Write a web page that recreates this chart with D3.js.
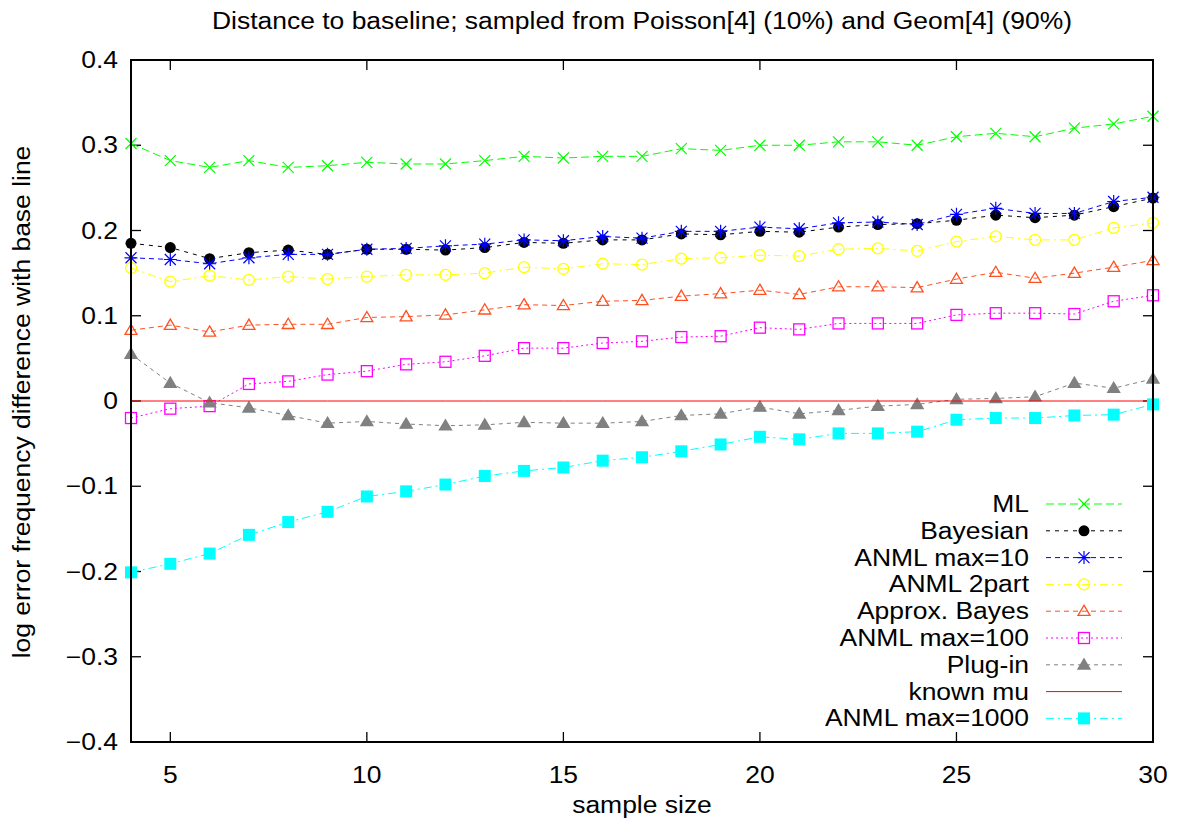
<!DOCTYPE html>
<html>
<head>
<meta charset="utf-8">
<script src="https://cdnjs.cloudflare.com/ajax/libs/d3/7.8.5/d3.min.js"></script>
<style>
  body { margin: 0; background: #fff; }
  text { font-family: "Liberation Sans", Arial, sans-serif; font-size: 23px; fill: #000; }
</style>
</head>
<body>
<svg id="chart" width="1179" height="828"></svg>
<script>
let sampleSizes = [4, 5, 6, 7, 8, 9, 10, 11, 12, 13, 14, 15, 16, 17, 18, 19, 20, 21, 22, 23, 24, 25, 26, 27, 28, 29, 30]

let ml = [0.302, 0.282, 0.274, 0.282, 0.274, 0.276, 0.280, 0.278, 0.278, 0.282, 0.287, 0.285, 0.287, 0.287, 0.296, 0.294, 0.300, 0.300, 0.304, 0.304, 0.300, 0.310, 0.314, 0.310, 0.320, 0.325, 0.334]
let bayesian = [0.185, 0.180, 0.167, 0.174, 0.177, 0.172, 0.178, 0.178, 0.177, 0.180, 0.186, 0.185, 0.189, 0.189, 0.196, 0.195, 0.199, 0.198, 0.204, 0.207, 0.208, 0.212, 0.218, 0.215, 0.218, 0.228, 0.238]
let anml10 = [0.168, 0.166, 0.161, 0.168, 0.172, 0.172, 0.178, 0.179, 0.182, 0.184, 0.189, 0.188, 0.193, 0.191, 0.199, 0.199, 0.204, 0.202, 0.209, 0.210, 0.207, 0.219, 0.226, 0.220, 0.220, 0.234, 0.239]
let anml2part = [0.156, 0.140, 0.147, 0.142, 0.146, 0.143, 0.146, 0.148, 0.148, 0.150, 0.157, 0.155, 0.161, 0.160, 0.167, 0.168, 0.171, 0.170, 0.178, 0.179, 0.176, 0.187, 0.193, 0.189, 0.189, 0.203, 0.209]
let approxBayes = [0.083, 0.089, 0.081, 0.089, 0.090, 0.090, 0.098, 0.099, 0.101, 0.107, 0.113, 0.112, 0.117, 0.118, 0.123, 0.126, 0.130, 0.125, 0.134, 0.134, 0.133, 0.143, 0.151, 0.144, 0.150, 0.157, 0.165]
let anml100 = [-0.020, -0.009, -0.006, 0.020, 0.023, 0.031, 0.035, 0.043, 0.046, 0.053, 0.062, 0.062, 0.068, 0.070, 0.075, 0.076, 0.086, 0.084, 0.091, 0.091, 0.091, 0.101, 0.103, 0.103, 0.102, 0.117, 0.124]
let plugIn = [0.055, 0.021, -0.002, -0.008, -0.017, -0.026, -0.024, -0.027, -0.029, -0.028, -0.025, -0.026, -0.026, -0.024, -0.017, -0.015, -0.007, -0.015, -0.011, -0.006, -0.004, 0.002, 0.003, 0.005, 0.021, 0.015, 0.026]
let knownMu = [0, 0, 0, 0, 0, 0, 0, 0, 0, 0, 0, 0, 0, 0, 0, 0, 0, 0, 0, 0, 0, 0, 0, 0, 0, 0, 0]
let anml1000 = [-0.201, -0.191, -0.179, -0.157, -0.142, -0.130, -0.112, -0.106, -0.098, -0.088, -0.082, -0.078, -0.070, -0.066, -0.059, -0.051, -0.042, -0.045, -0.038, -0.038, -0.036, -0.022, -0.020, -0.020, -0.017, -0.016, -0.004]

let xTicks = [5, 10, 15, 20, 25, 30]
let yTicks = [-0.4, -0.3, -0.2, -0.1, 0, 0.1, 0.2, 0.3, 0.4]

let series = [
  { name: 'ML', values: ml, color: '#00ff00', dash: '8,4', marker: 'x' },
  { name: 'Bayesian', values: bayesian, color: '#000000', dash: '4,5', marker: 'dot' },
  { name: 'ANML max=10', values: anml10, color: '#0000ff', dash: '5,4', marker: 'star' },
  { name: 'ANML 2part', values: anml2part, color: '#ffff00', dash: '8,4,2,4', marker: 'circle' },
  { name: 'Approx. Bayes', values: approxBayes, color: '#ff5020', dash: '5,4', marker: 'triangle' },
  { name: 'ANML max=100', values: anml100, color: '#ff00ff', dash: '2,3', marker: 'square' },
  { name: 'Plug-in', values: plugIn, color: '#808080', dash: '4,4', marker: 'ftriangle' },
  { name: 'known mu', values: knownMu, color: '#ff0000', dash: null, marker: null },
  { name: 'ANML max=1000', values: anml1000, color: '#00ffff', dash: '8,4,2,4', marker: 'fsquare' }
]

let svg = d3.select('#chart')
let plotLeft = 131, plotRight = 1153, plotTop = 60, plotBottom = 742
let stretchX = 1.15

let x = d3.scaleLinear().domain([4, 30]).range([plotLeft, plotRight])
let y = d3.scaleLinear().domain([-0.4, 0.4]).range([plotBottom, plotTop])

function stretch(sel) {
  sel.each(function() {
    let len = this.getComputedTextLength()
    d3.select(this).attr('textLength', len * stretchX).attr('lengthAdjust', 'spacingAndGlyphs')
  })
}

function drawMarker(g, type, cx, cy, color) {
  let s = 5.5
  if (type === 'x') {
    g.append('path').attr('d', `M${cx-s},${cy-s}L${cx+s},${cy+s}M${cx-s},${cy+s}L${cx+s},${cy-s}`)
      .attr('stroke', color).attr('stroke-width', 1.2).attr('fill', 'none')
  } else if (type === 'dot') {
    g.append('circle').attr('cx', cx).attr('cy', cy).attr('r', s).attr('fill', color)
  } else if (type === 'star') {
    g.append('path').attr('d', `M${cx-s},${cy-s}L${cx+s},${cy+s}M${cx-s},${cy+s}L${cx+s},${cy-s}M${cx-s-1},${cy}L${cx+s+1},${cy}M${cx},${cy-s-1}L${cx},${cy+s+1}`)
      .attr('stroke', color).attr('stroke-width', 1.2).attr('fill', 'none')
  } else if (type === 'circle') {
    g.append('circle').attr('cx', cx).attr('cy', cy).attr('r', s).attr('fill', 'none').attr('stroke', color).attr('stroke-width', 1.3)
  } else if (type === 'triangle' || type === 'ftriangle') {
    let h = 6
    g.append('path').attr('d', `M${cx},${cy-h}L${cx+h},${cy+h*0.7}L${cx-h},${cy+h*0.7}Z`)
      .attr('fill', type === 'ftriangle' ? color : 'none')
      .attr('stroke', color).attr('stroke-width', 1.3)
  } else if (type === 'square' || type === 'fsquare') {
    let h = type === 'fsquare' ? 6 : 5.5
    g.append('rect').attr('x', cx - h).attr('y', cy - h).attr('width', 2 * h).attr('height', 2 * h)
      .attr('fill', type === 'fsquare' ? color : 'none')
      .attr('stroke', type === 'fsquare' ? 'none' : color).attr('stroke-width', 1.3)
  }
}

// ticks, mirrored on all sides, pointing inwards
let tickG = svg.append('g').attr('stroke', '#000').attr('stroke-width', 1.3)
yTicks.forEach(t => {
  tickG.append('line').attr('x1', plotLeft).attr('x2', plotLeft + 10).attr('y1', y(t)).attr('y2', y(t))
  tickG.append('line').attr('x1', plotRight - 10).attr('x2', plotRight).attr('y1', y(t)).attr('y2', y(t))
})
xTicks.forEach(t => {
  tickG.append('line').attr('x1', x(t)).attr('x2', x(t)).attr('y1', plotBottom).attr('y2', plotBottom - 10)
  tickG.append('line').attr('x1', x(t)).attr('x2', x(t)).attr('y1', plotTop).attr('y2', plotTop + 10)
})

svg.append('g').selectAll('text').data(yTicks).enter().append('text')
  .attr('x', 118).attr('y', d => y(d) + 8).attr('text-anchor', 'end')
  .text(d => d === 0 ? '0' : d3.format('.1f')(d))
  .call(stretch)

svg.append('g').selectAll('text').data(xTicks).enter().append('text')
  .attr('x', d => x(d)).attr('y', 783).attr('text-anchor', 'middle')
  .text(d => d)
  .call(stretch)

let line = d3.line().x((d, i) => x(sampleSizes[i])).y(d => y(d))

let plotG = svg.append('g')
series.forEach(s => {
  plotG.append('path').datum(s.values).attr('d', line)
    .attr('fill', 'none').attr('stroke', s.color).attr('stroke-width', 1)
    .attr('stroke-dasharray', s.dash)
  if (s.marker) {
    s.values.forEach((v, i) => drawMarker(plotG, s.marker, x(sampleSizes[i]), y(v), s.color))
  }
})

// frame
svg.append('rect').attr('x', plotLeft).attr('y', plotTop).attr('width', plotRight - plotLeft).attr('height', plotBottom - plotTop)
  .attr('fill', 'none').attr('stroke', '#000').attr('stroke-width', 2)

// legend
let legendG = svg.append('g')
series.forEach((s, i) => {
  let ly = 504 + i * 26.8
  legendG.append('text').attr('x', 1029).attr('y', ly + 8).attr('text-anchor', 'end').text(s.name).call(stretch)
  legendG.append('line').attr('x1', 1046).attr('x2', 1122).attr('y1', ly).attr('y2', ly)
    .attr('stroke', s.color).attr('stroke-width', 1).attr('stroke-dasharray', s.dash)
  if (s.marker) drawMarker(legendG, s.marker, 1084, ly, s.color)
})

svg.append('text').attr('x', 642).attr('y', 29).attr('text-anchor', 'middle')
  .text('Distance to baseline; sampled from Poisson[4] (10%) and Geom[4] (90%)').call(stretch)

svg.append('text').attr('x', 642).attr('y', 813).attr('text-anchor', 'middle')
  .text('sample size').call(stretch)

svg.append('text').attr('transform', 'translate(30,402) rotate(-90)').attr('text-anchor', 'middle')
  .text('log error frequency difference with base line').call(stretch)
</script>
</body>
</html>
